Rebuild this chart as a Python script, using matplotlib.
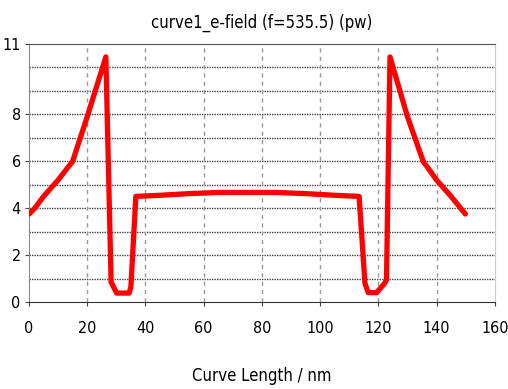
import matplotlib
matplotlib.use('Agg')
import matplotlib.pyplot as plt

# curve length (nm) and e-field values
length = [0, 2, 5, 10, 15, 20, 26.4, 28.2, 30.1, 34.4, 35.0, 36.7,
          45, 55, 65, 85, 95, 105, 113.4, 115.4, 116.5, 119.4, 122.2,
          122.8, 124.0, 130, 135.4, 140, 145, 149.9]
efield = [3.75, 4.0, 4.5, 5.2, 6.0, 7.9, 10.45, 0.85, 0.38, 0.38, 0.65, 4.5,
          4.55, 4.62, 4.67, 4.67, 4.62, 4.55, 4.5, 0.8, 0.4, 0.4, 0.8,
          0.95, 10.45, 7.9, 6.0, 5.2, 4.5, 3.75]

xticks = [0, 20, 40, 60, 80, 100, 120, 140, 160]
yticks = [0, 2, 4, 6, 8, 11]
hgrid = [1, 2, 3, 4, 5, 6, 7, 8, 9, 10]
vgrid = [20, 40, 60, 80, 100, 120, 140]

plt.rcParams['font.family'] = ['DejaVu Sans']
plt.rcParams['font.stretch'] = 'condensed'

fig = plt.figure(figsize=(5.08, 3.89), dpi=100)
ax = fig.add_axes([0.0571, 0.2237, 0.9169, 0.6632])

for y in hgrid:
    ax.axhline(y, color='#444444', lw=1, ls=(0, (1, 0.8)), zorder=1)
for x in vgrid:
    ax.axvline(x, color='#999999', lw=1, ls=(0, (3, 3)), zorder=1)

ax.plot(length, efield, color='#ff0000', lw=3.8, solid_joinstyle='round',
        solid_capstyle='round', zorder=3)

ax.set_xlim(0, 160)
ax.set_ylim(0, 11)
ax.set_xticks(xticks)
ax.set_yticks(yticks)
ax.tick_params(labelsize=11.5, length=3, color='#444444')
ax.tick_params(axis='x', pad=11)
ax.tick_params(axis='y', pad=3)

ax.spines['top'].set_color('#555555')
ax.spines['bottom'].set_color('#333333')
ax.spines['left'].set_color('#888888')
ax.spines['right'].set_color('#cccccc')

ax.set_title('curve1_e-field (f=535.5) (pw)', fontsize=12, pad=12)
ax.set_xlabel('Curve Length / nm', fontsize=12, labelpad=22)

fig.savefig('out.png', dpi=100)
